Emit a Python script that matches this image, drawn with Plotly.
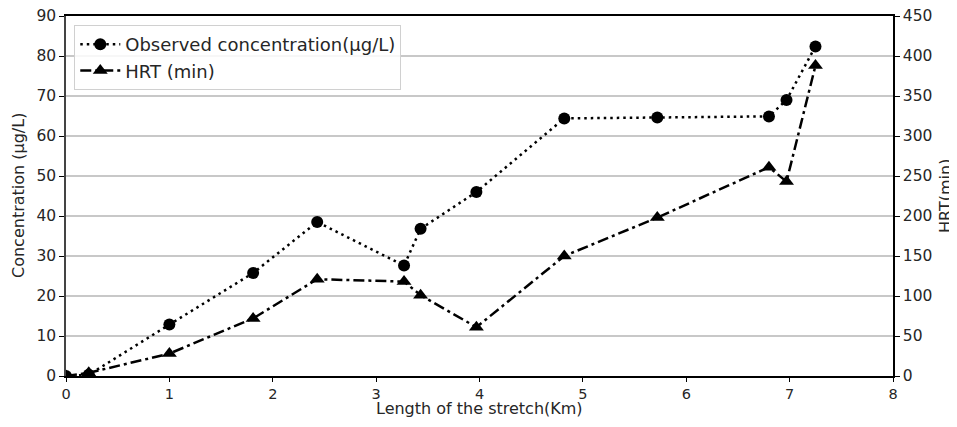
import plotly.graph_objects as go

distance_km = [0, 0.22, 1.0, 1.81, 2.43, 3.27, 3.43, 3.97, 4.82, 5.72, 6.80, 6.97, 7.25]
concentration = [0, 0.3, 12.85, 25.75, 38.5, 27.6, 36.8, 46.0, 64.4, 64.6, 64.9, 69.0, 82.4]
hrt_min = [0, 4, 28, 72, 121, 118, 101, 61, 150, 198, 261, 243, 388]

x_ticks = [0, 1, 2, 3, 4, 5, 6, 7, 8]
conc_ticks = [0, 10, 20, 30, 40, 50, 60, 70, 80, 90]
hrt_ticks = [0, 50, 100, 150, 200, 250, 300, 350, 400, 450]

x_title = "Length of the stretch(Km)"
y_title = "Concentration (µg/L)"
y2_title = "HRT(min)"

font_family = "DejaVu Sans"
text_color = "#262626"

# the page body adds an 8px margin, so the figure is sized to fit inside it
OFF = 8
W, H = 949, 411
ML, MR, MT, MB = 58, 64, 8, 43
PW = W - ML - MR
PH = H - MT - MB

fig = go.Figure()
fig.add_trace(go.Scatter(
    x=distance_km, y=concentration, name="Observed concentration(µg/L)",
    mode="lines+markers",
    line=dict(color="black", width=2.5, dash="2.5px,4px"),
    marker=dict(symbol="circle", size=12, color="black"),
    yaxis="y",
))
fig.add_trace(go.Scatter(
    x=distance_km, y=hrt_min, name="HRT (min)",
    mode="lines+markers",
    line=dict(color="black", width=2.5, dash="11px,4px,3px,4px"),
    marker=dict(symbol="triangle-up", size=13, color="black"),
    yaxis="y2",
))

fig.update_layout(
    width=W, height=H,
    margin=dict(l=ML, r=MR, t=MT, b=MB, autoexpand=False),
    paper_bgcolor="white", plot_bgcolor="white",
    font=dict(family=font_family, size=15, color=text_color),
    showlegend=True,
    legend=dict(
        x=0.01, y=0.975, xanchor="left", yanchor="top",
        bgcolor="rgba(255,255,255,0.85)", bordercolor="#d0d0d0", borderwidth=1,
        font=dict(size=18, color=text_color),
        tracegroupgap=0, itemwidth=40,
    ),
    xaxis=dict(
        range=[0, 8], tickvals=x_ticks, showgrid=False, zeroline=False,
        showline=True, linecolor="black", linewidth=1.5, mirror=True,
        ticks="outside", ticklen=4, tickcolor="black", automargin=False,
        tickfont=dict(size=14.5), ticklabeloverflow="allow",
    ),
    yaxis=dict(
        range=[0, 90], tickvals=conc_ticks, showgrid=True, gridcolor="#c8c8c8", gridwidth=1.5,
        zeroline=False, showline=True, linecolor="#444", linewidth=1.5,
        ticks="outside", ticklen=5, tickcolor="black", automargin=False,
        tickfont=dict(size=15.5), ticklabeloverflow="allow",
    ),
    yaxis2=dict(
        range=[0, 450], tickvals=hrt_ticks, overlaying="y", side="right",
        showgrid=False, zeroline=False, showline=True, linecolor="black", linewidth=1.5,
        ticks="outside", ticklen=5, tickcolor="black", automargin=False,
        tickfont=dict(size=15.5), ticklabeloverflow="allow",
    ),
    annotations=[
        dict(text=x_title, xref="paper", yref="paper", x=0.5, y=-33 / PH,
             yanchor="middle", xanchor="center", showarrow=False,
             font=dict(size=16, color=text_color)),
        dict(text=y_title, xref="paper", yref="paper", x=(18 - OFF - ML) / PW, y=0.5,
             xanchor="center", yanchor="middle", textangle=-90, showarrow=False,
             font=dict(size=16, color=text_color)),
        dict(text=y2_title, xref="paper", yref="paper", x=(945 - OFF - ML) / PW, y=0.5,
             xanchor="center", yanchor="middle", textangle=-90, showarrow=False,
             font=dict(size=16, color=text_color)),
    ],
)

fig.write_html("out.html")
